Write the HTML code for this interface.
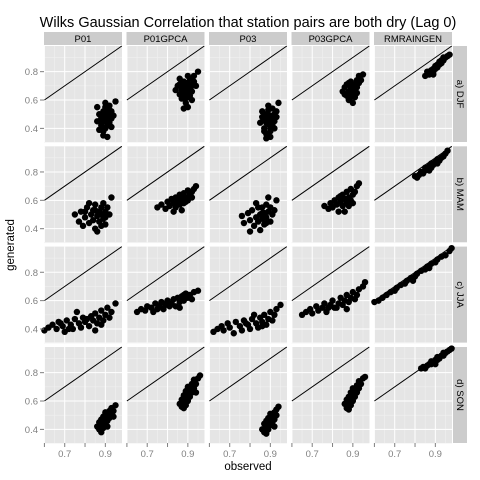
<!DOCTYPE html>
<html><head><meta charset="utf-8"><style>body{margin:0;background:#fff}svg{display:block;font-family:"Liberation Sans",sans-serif}</style></head>
<body>
<svg id="c" width="480" height="480"></svg>
<script>
const columns=["P01","P01GPCA","P03","P03GPCA","RMRAINGEN"];
const rows=["a) DJF","b) MAM","c) JJA","d) SON"];
const xTicks=[0.6,0.7,0.8,0.9];
const xTickLabels=["","0.7","","0.9"];
const yTicks=[0.4,0.6,0.8];
const yTickLabels=["0.4","0.6","0.8"];
const djf=[
[[.86,.45],[.87,.50],[.88,.42],[.88,.47],[.89,.52],[.89,.38],[.90,.45],[.90,.49],[.90,.55],[.91,.42],[.91,.47],[.91,.51],[.92,.44],[.92,.49],[.92,.56],[.93,.47],[.93,.52],[.94,.49],[.89,.35],[.91,.34],[.95,.59],[.86,.55],[.87,.39],[.93,.41],[.90,.58],[.88,.44],[.92,.53],[.89,.48],[.91,.44],[.90,.40]],
[[.84,.67],[.85,.70],[.86,.64],[.86,.71],[.87,.67],[.87,.61],[.88,.73],[.88,.65],[.89,.69],[.89,.58],[.89,.62],[.90,.66],[.90,.72],[.90,.55],[.91,.68],[.91,.63],[.91,.75],[.92,.70],[.92,.66],[.93,.73],[.93,.77],[.94,.70],[.95,.80],[.88,.54],[.86,.75],[.92,.60],[.90,.77],[.88,.69],[.90,.62],[.89,.66]],
[[.85,.44],[.86,.48],[.87,.40],[.87,.46],[.88,.50],[.88,.36],[.89,.43],[.89,.47],[.89,.53],[.90,.40],[.90,.45],[.90,.49],[.91,.42],[.91,.47],[.91,.54],[.92,.45],[.92,.50],[.93,.48],[.88,.33],[.90,.34],[.94,.58],[.86,.52],[.87,.38],[.92,.40],[.89,.56],[.93,.52],[.88,.44],[.90,.38]],
[[.85,.66],[.86,.69],[.87,.63],[.87,.71],[.88,.66],[.88,.60],[.89,.69],[.89,.73],[.90,.64],[.90,.68],[.90,.58],[.91,.71],[.91,.66],[.92,.74],[.92,.69],[.93,.72],[.93,.77],[.94,.74],[.89,.62],[.91,.62],[.95,.78],[.86,.64],[.92,.65],[.88,.72],[.89,.66],[.91,.69]],
[[.85,.77],[.86,.78],[.87,.78],[.87,.80],[.88,.79],[.88,.81],[.89,.80],[.89,.82],[.90,.82],[.90,.84],[.91,.83],[.91,.85],[.92,.85],[.92,.87],[.93,.86],[.93,.88],[.94,.88],[.94,.90],[.95,.90],[.96,.91],[.97,.92],[.86,.80],[.89,.78]]];
const mam=[
[[.75,.50],[.77,.45],[.78,.52],[.80,.48],[.81,.55],[.82,.44],[.83,.50],[.84,.53],[.84,.46],[.85,.40],[.85,.57],[.86,.49],[.87,.52],[.87,.45],[.88,.55],[.88,.50],[.89,.47],[.89,.58],[.90,.52],[.90,.43],[.91,.55],[.92,.50],[.93,.62],[.86,.38],[.82,.58],[.79,.42],[.88,.42],[.85,.53],[.80,.52],[.90,.48]],
[[.75,.55],[.77,.57],[.79,.54],[.80,.59],[.81,.56],[.82,.61],[.83,.58],[.84,.55],[.84,.62],[.85,.59],[.86,.57],[.86,.64],[.87,.61],[.88,.58],[.88,.65],[.89,.62],[.90,.60],[.90,.67],[.91,.64],[.92,.62],[.93,.68],[.94,.70],[.83,.52],[.87,.53],[.92,.66],[.85,.62],[.89,.59]],
[[.76,.49],[.77,.44],[.79,.51],[.80,.46],[.81,.53],[.82,.42],[.83,.48],[.84,.55],[.84,.45],[.85,.50],[.85,.39],[.86,.47],[.86,.55],[.87,.51],[.87,.43],[.88,.48],[.88,.57],[.89,.52],[.90,.45],[.90,.55],[.91,.50],[.92,.53],[.93,.60],[.80,.38],[.89,.62],[.83,.58],[.86,.51],[.88,.44]],
[[.76,.56],[.78,.54],[.79,.58],[.80,.55],[.81,.60],[.82,.57],[.83,.52],[.83,.62],[.84,.59],[.85,.56],[.85,.64],[.86,.61],[.87,.58],[.87,.66],[.88,.62],[.89,.60],[.89,.68],[.90,.64],[.91,.66],[.92,.70],[.93,.72],[.86,.52],[.90,.58],[.84,.63],[.88,.56]],
[[.80,.77],[.81,.76],[.82,.78],[.83,.80],[.84,.79],[.85,.81],[.85,.83],[.86,.82],[.87,.84],[.88,.83],[.88,.86],[.89,.85],[.90,.87],[.91,.86],[.91,.89],[.92,.88],[.93,.90],[.94,.91],[.95,.93],[.96,.95],[.87,.81]]];
const jja=[
[[.60,.39],[.62,.41],[.64,.43],[.66,.40],[.67,.45],[.69,.42],[.70,.38],[.71,.46],[.73,.43],[.74,.40],[.75,.47],[.77,.44],[.78,.41],[.79,.48],[.80,.45],[.82,.42],[.83,.49],[.84,.46],[.85,.51],[.86,.44],[.87,.48],[.88,.53],[.89,.46],[.90,.50],[.91,.55],[.92,.48],[.93,.52],[.95,.58],[.85,.39],[.76,.52],[.72,.40],[.81,.47],[.88,.43],[.68,.44]],
[[.65,.52],[.67,.54],[.69,.53],[.70,.56],[.72,.55],[.73,.52],[.74,.58],[.76,.56],[.77,.59],[.78,.54],[.79,.57],[.80,.60],[.82,.58],[.83,.61],[.84,.56],[.85,.62],[.86,.59],[.87,.63],[.88,.60],[.89,.65],[.90,.62],[.91,.64],[.92,.61],[.93,.66],[.95,.67],[.86,.55],[.81,.56],[.75,.54],[.88,.64]],
[[.62,.38],[.64,.40],[.66,.42],[.67,.39],[.69,.44],[.70,.41],[.72,.37],[.73,.45],[.75,.42],[.76,.39],[.77,.46],[.79,.43],[.80,.40],[.81,.47],[.83,.44],[.84,.41],[.85,.48],[.86,.45],[.87,.50],[.88,.43],[.89,.47],[.90,.52],[.91,.46],[.92,.50],[.93,.54],[.95,.57],[.82,.50],[.78,.44],[.86,.42]],
[[.65,.50],[.67,.52],[.69,.54],[.70,.51],[.72,.56],[.73,.53],[.75,.55],[.76,.58],[.77,.52],[.79,.57],[.80,.60],[.81,.55],[.83,.58],[.84,.62],[.85,.57],[.86,.60],[.87,.64],[.88,.59],[.89,.62],[.90,.66],[.91,.61],[.92,.64],[.93,.68],[.95,.70],[.96,.73],[.87,.54],[.82,.55],[.78,.55]],
[[.60,.59],[.62,.60],[.64,.62],[.66,.64],[.68,.66],[.70,.67],[.71,.69],[.73,.71],[.75,.72],[.76,.74],[.78,.76],[.80,.77],[.81,.79],[.83,.81],[.85,.82],[.86,.84],[.88,.86],[.90,.87],[.91,.89],[.93,.91],[.95,.92],[.97,.95],[.98,.97],[.79,.74],[.87,.83]]];
const son=[
[[.86,.42],[.87,.40],[.87,.45],[.88,.43],[.88,.47],[.89,.41],[.89,.45],[.89,.49],[.90,.44],[.90,.48],[.90,.52],[.91,.46],[.91,.50],[.92,.48],[.92,.53],[.93,.51],[.93,.55],[.94,.53],[.95,.57],[.88,.38],[.91,.42],[.94,.49]],
[[.86,.58],[.87,.56],[.87,.61],[.88,.59],[.88,.64],[.89,.57],[.89,.62],[.89,.67],[.90,.60],[.90,.65],[.90,.70],[.91,.63],[.91,.68],[.92,.66],[.92,.72],[.93,.69],[.93,.75],[.94,.72],[.95,.76],[.96,.78],[.88,.55],[.94,.66]],
[[.86,.40],[.87,.38],[.87,.44],[.88,.42],[.88,.46],[.89,.40],[.89,.44],[.89,.48],[.90,.43],[.90,.47],[.90,.51],[.91,.45],[.91,.49],[.92,.47],[.92,.52],[.93,.50],[.93,.54],[.94,.56],[.88,.37],[.92,.42]],
[[.86,.58],[.87,.55],[.87,.61],[.88,.59],[.88,.63],[.89,.57],[.89,.62],[.89,.66],[.90,.60],[.90,.65],[.90,.69],[.91,.63],[.91,.68],[.92,.66],[.92,.71],[.93,.69],[.93,.74],[.94,.72],[.95,.76],[.96,.77],[.88,.54]],
[[.83,.83],[.84,.84],[.85,.83],[.86,.85],[.87,.86],[.88,.86],[.88,.88],[.89,.87],[.90,.89],[.91,.89],[.91,.91],[.92,.90],[.93,.92],[.94,.92],[.94,.94],[.95,.94],[.96,.95],[.97,.96],[.98,.97],[.90,.86]]];
const seasons=[djf,mam,jja,son];

const NS="http://www.w3.org/2000/svg";
const svg=document.getElementById('c');
function mk(t,a,p){const e=document.createElementNS(NS,t);for(const k in a)e.setAttribute(k,a[k]);(p||svg).appendChild(e);return e;}
const colX=[44,126.5,209,291.5,374],rowY=[46,146.3,246.6,347],PW=78,PH=96;
const X0=0.598,X1=0.982,Y0=0.304,Y1=0.981;
const sx=(v,c)=>colX[c]+(v-X0)/(X1-X0)*PW;
const sy=(v,r)=>rowY[r]+PH-(v-Y0)/(Y1-Y0)*PH;

let t=mk('text',{x:248,y:27,'text-anchor':'middle','font-size':14.5,fill:'#000'});t.textContent="Wilks Gaussian Correlation that station pairs are both dry (Lag 0)";


columns.forEach((cn,c)=>{
  const g=mk('g',{});
  mk('rect',{x:colX[c],y:32,width:PW,height:13,fill:'#cccccc'},g);
  const tt=mk('text',{x:colX[c]+PW/2,y:42,'text-anchor':'middle','font-size':9.5,fill:'#000'},g);tt.textContent=cn;
});
rows.forEach((rn,r)=>{
  const g=mk('g',{});
  mk('rect',{x:453,y:rowY[r],width:14,height:PH,fill:'#cccccc'},g);
  const tt=mk('text',{x:0,y:0,'text-anchor':'middle','font-size':9.5,fill:'#000',transform:`translate(457,${rowY[r]+PH/2}) rotate(90)`},g);tt.textContent=rn;
});
for(let r=0;r<4;r++)for(let c=0;c<5;c++){
  const g=mk('g',{});
  mk('rect',{x:colX[c],y:rowY[r],width:PW,height:PH,fill:'#e5e5e5'},g);
  [0.65,0.75,0.85,0.95].forEach(v=>mk('line',{x1:sx(v,c),x2:sx(v,c),y1:rowY[r],y2:rowY[r]+PH,stroke:'#f2f2f2','stroke-width':0.5},g));
  [0.3,0.5,0.7,0.9].forEach(v=>mk('line',{x1:colX[c],x2:colX[c]+PW,y1:sy(v,r),y2:sy(v,r),stroke:'#f2f2f2','stroke-width':0.5},g));
  xTicks.forEach(v=>mk('line',{x1:sx(v,c),x2:sx(v,c),y1:rowY[r],y2:rowY[r]+PH,stroke:'#fff','stroke-width':1},g));
  yTicks.forEach(v=>mk('line',{x1:colX[c],x2:colX[c]+PW,y1:sy(v,r),y2:sy(v,r),stroke:'#fff','stroke-width':1},g));
  const x2=Math.min(X1,Y1);
  mk('line',{x1:sx(0.6,c),y1:sy(0.6,r),x2:sx(x2,c),y2:sy(x2,r),stroke:'#000','stroke-width':1},g);
  seasons[r][c].forEach(p=>{const d=mk('circle',{cx:sx(p[0],c),cy:sy(p[1],r),r:3.2,fill:'#000'},g);
    });
}
rows.forEach((rn,r)=>{yTicks.forEach((v,i)=>{
  mk('line',{x1:40,x2:44,y1:sy(v,r),y2:sy(v,r),stroke:'#7f7f7f'});
  const tt=mk('text',{x:38,y:sy(v,r)+3.5,'text-anchor':'end','font-size':9.5,fill:'#7f7f7f'});tt.textContent=yTickLabels[i];
  
});});
columns.forEach((cn,c)=>{xTicks.forEach((v,i)=>{
  mk('line',{x1:sx(v,c),x2:sx(v,c),y1:443,y2:447,stroke:'#7f7f7f'});
  if(xTickLabels[i]){const tt=mk('text',{x:sx(v,c),y:457,'text-anchor':'middle','font-size':9.5,fill:'#7f7f7f'});tt.textContent=xTickLabels[i];
  }
});});
t=mk('text',{x:248,y:470,'text-anchor':'middle','font-size':11.5,fill:'#000'});t.textContent="observed";

t=mk('text',{x:0,y:0,'text-anchor':'middle','font-size':11.5,fill:'#000',transform:'translate(14,245) rotate(-90)'});t.textContent="generated";

</script>
</body></html>
